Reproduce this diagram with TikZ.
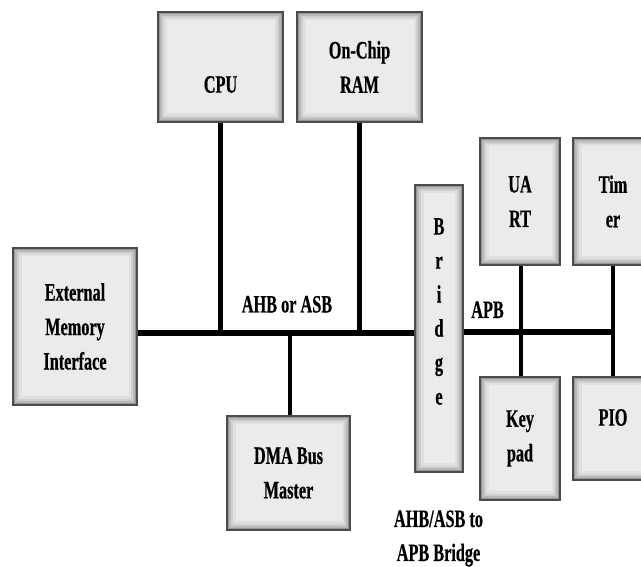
\documentclass[tikz,border=0pt]{standalone}
\usepackage{fontspec}
\setmainfont{Liberation Serif}[FakeStretch=0.65, BoldFeatures={FakeBold=0.6}]
\usetikzlibrary{backgrounds}
\tikzset{
  x=1pt, y=1pt,
  txt/.style={font=\fontsize{25}{34.5}\selectfont\bfseries, text=black},
  box/.style={txt, draw=black!70, line width=2.5pt, fill=black!8, inner sep=2pt,
    align=center, anchor=center,
    path picture={
      \foreach \w/\c in {17/12, 12/19, 8/28, 4.5/42}
        \draw[line width=\w pt, black!\c]
          (path picture bounding box.south west) rectangle (path picture bounding box.north east);
    }},
  bus/.style={line width=6pt, line cap=rect},
  wire/.style={line width=4.5pt},
}
\begin{document}
\begin{tikzpicture}
\useasboundingbox (0,0) rectangle (641,567);
\node[box, minimum width=125pt, minimum height=110pt,
      label={[txt, yshift=-17.5pt]center:CPU}] (cpu) at (220.5,500) {};
\node[box, minimum width=125pt, minimum height=110pt] (ram) at (359.5,500) {On-Chip\\RAM};
\node[box, minimum width=124pt, minimum height=157pt] (emi) at (75,240.5) {External\\Memory\\Interface};
\node[box, minimum width=123pt, minimum height=114pt] (dma) at (288.5,94) {DMA Bus\\Master};
\node[box, minimum width=48pt, minimum height=287pt,
      label={[txt, yshift=17pt, align=center, font=\fontsize{25}{34}\selectfont\bfseries]center:B\\r\\i\\d\\g\\e}] (bridge) at (439,238.5) {};
\node[box, minimum width=80pt, minimum height=127pt] (uart) at (520,365.5) {UA\\RT};
\node[box, minimum width=80pt, minimum height=127pt] (timer) at (613,365.5) {Tim\\er};
\node[box, minimum width=80pt, minimum height=123pt] (keypad) at (520,128.5) {Key\\pad};
\node[box, minimum width=80pt, minimum height=103pt,
      label={[txt, yshift=11pt]center:PIO}] (pio) at (613,138.5) {};

\coordinate (ahb) at (0,234);
\coordinate (apb) at (0,235);

\begin{scope}[on background layer]
  \draw[bus] (emi.east |- ahb) -- (bridge.west |- ahb);
  \draw[bus] (bridge.east |- apb) -- ([xshift=-0.75pt]timer.south |- apb);
  \draw[wire] (cpu.south) -- (cpu.south |- ahb);
  \draw[wire] (ram.south) -- (ram.south |- ahb);
  \draw[wire] ([xshift=1.5pt]dma.north) -- ([xshift=1.5pt]dma.north |- ahb);
  \draw[wire] ([xshift=1pt]uart.south) -- ([xshift=1pt]keypad.north);
  \draw[wire] (timer.south) -- (pio.north);
\end{scope}

\node[txt, anchor=base] (ahblabel) at (287,254.5) {AHB or ASB};
\node[txt, anchor=base] (apblabel) at (487.5,249) {APB};
\node[txt, anchor=base] (brlabel1) at (438.5,40) {AHB/ASB to};
\node[txt, anchor=base] (brlabel2) at (438.5,6) {APB Bridge};
\end{tikzpicture}
\end{document}
